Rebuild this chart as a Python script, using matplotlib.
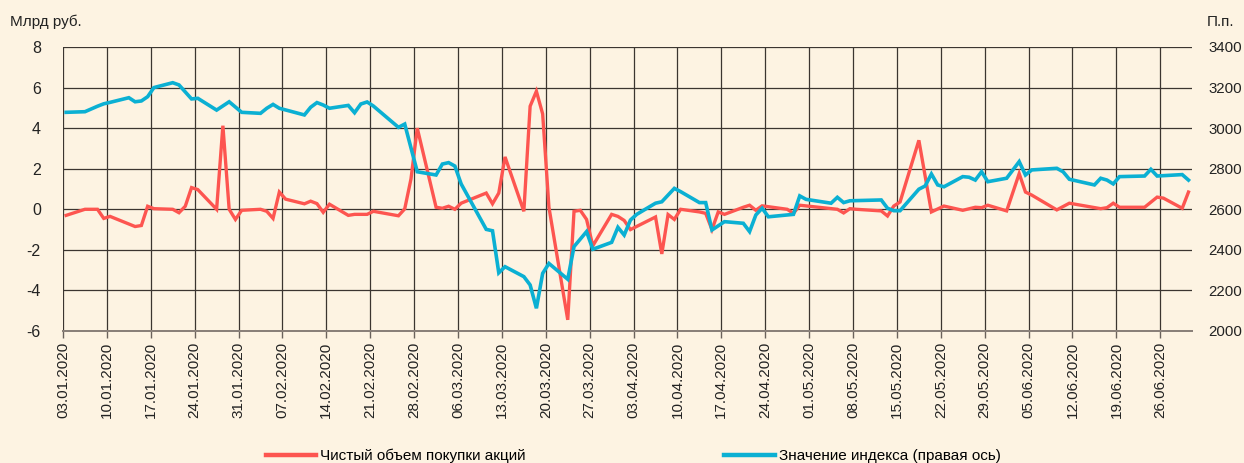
import pandas as pd
import matplotlib
matplotlib.use("Agg")
import matplotlib.pyplot as plt
import matplotlib.dates as mdates

plt.rcParams['font.family'] = ['Liberation Sans', 'DejaVu Sans']
plt.rcParams['axes.unicode_minus'] = False

# net purchases of shares, bn rub (left axis)
red_dates = ['03.01', '06.01', '08.01', '09.01', '10.01', '14.01', '15.01', '16.01', '17.01',
             '20.01', '21.01', '22.01', '23.01', '24.01', '27.01', '28.01', '29.01', '30.01',
             '31.01', '03.02', '04.02', '05.02', '06.02', '07.02', '10.02', '11.02', '12.02',
             '13.02', '14.02', '17.02', '18.02', '20.02', '21.02', '25.02', '26.02', '27.02',
             '28.02', '02.03', '03.03', '04.03', '05.03', '06.03', '10.03', '11.03', '12.03',
             '13.03', '16.03', '17.03', '18.03', '19.03', '20.03', '23.03', '24.03', '25.03',
             '26.03', '27.03', '30.03', '31.03', '01.04', '02.04', '06.04', '07.04', '08.04',
             '09.04', '10.04', '13.04', '14.04', '15.04', '16.04', '17.04', '20.04', '21.04',
             '22.04', '23.04', '27.04', '28.04', '29.04', '05.05', '06.05', '07.05', '08.05',
             '12.05', '13.05', '14.05', '15.05', '18.05', '20.05', '22.05', '25.05', '27.05',
             '28.05', '29.05', '01.06', '03.06', '04.06', '05.06', '09.06', '11.06', '16.06',
             '17.06', '18.06', '19.06', '23.06', '25.06', '26.06', '29.06', '30.06']
red_vals = [-0.3, 0.0, 0.0, -0.45, -0.35, -0.85, -0.8, 0.15, 0.03,
            0.0, -0.17, 0.15, 1.07, 0.97, 0.0, 4.12, 0.0, -0.5,
            -0.05, 0.0, -0.1, -0.45, 0.85, 0.5, 0.27, 0.4, 0.28,
            -0.15, 0.25, -0.3, -0.25, -0.25, -0.1, -0.32, 0.02, 1.5,
            4.0, 0.1, 0.05, 0.15, 0.0, 0.3, 0.8, 0.27, 0.8,
            2.58, -0.1, 5.08, 5.82, 4.7, 0.1, -5.45, -0.1, -0.05,
            -0.5, -1.8, -0.25, -0.35, -0.55, -1.0, -0.38, -2.2, -0.26,
            -0.5, 0.0, -0.13, -0.2, -1.0, -0.13, -0.25, 0.1, 0.2,
            -0.05, 0.17, 0.0, -0.2, 0.2, 0.0, -0.18, 0.03, 0.0,
            -0.08, -0.33, 0.16, 0.36, 3.4, -0.13, 0.16, -0.05, 0.1,
            0.08, 0.2, -0.08, 1.76, 0.85, 0.7, -0.03, 0.3, 0.03,
            0.08, 0.3, 0.1, 0.1, 0.6, 0.55, 0.05, 0.85]

# index value, points (right axis)
blue_dates = ['03.01', '06.01', '08.01', '09.01', '10.01', '13.01', '14.01', '15.01', '16.01',
              '17.01', '20.01', '21.01', '23.01', '24.01', '27.01', '29.01', '31.01', '03.02',
              '04.02', '05.02', '06.02', '10.02', '11.02', '12.02', '13.02', '14.02', '17.02',
              '18.02', '19.02', '20.02', '21.02', '25.02', '26.02', '28.02', '02.03', '03.03',
              '04.03', '05.03', '06.03', '10.03', '11.03', '12.03', '13.03', '16.03', '17.03',
              '18.03', '19.03', '20.03', '23.03', '24.03', '26.03', '27.03', '30.03', '31.03',
              '01.04', '02.04', '03.04', '06.04', '07.04', '09.04', '10.04', '13.04', '14.04',
              '15.04', '17.04', '20.04', '21.04', '22.04', '23.04', '24.04', '28.04', '29.04',
              '30.04', '04.05', '05.05', '06.05', '07.05', '12.05', '13.05', '14.05', '15.05',
              '18.05', '19.05', '20.05', '21.05', '22.05', '25.05', '26.05', '27.05', '28.05',
              '29.05', '01.06', '03.06', '04.06', '05.06', '09.06', '10.06', '11.06', '15.06',
              '16.06', '17.06', '18.06', '19.06', '23.06', '24.06', '25.06', '29.06', '30.06']
blue_vals = [3078, 3081, 3108, 3120, 3127, 3150, 3130, 3134, 3155,
             3200, 3224, 3213, 3144, 3147, 3089, 3130, 3078, 3073,
             3098, 3117, 3098, 3065, 3103, 3126, 3114, 3098, 3112,
             3076, 3119, 3129, 3109, 3004, 3020, 2785, 2769, 2823,
             2830, 2813, 2725, 2501, 2494, 2287, 2317, 2268, 2227,
             2112, 2284, 2333, 2255, 2416, 2490, 2403, 2437, 2511,
             2473, 2547, 2575, 2630, 2637, 2703, 2687, 2633, 2633,
             2498, 2539, 2531, 2490, 2572, 2605, 2563, 2575, 2666,
             2649, 2630, 2659, 2633, 2642, 2646, 2605, 2593, 2593,
             2699, 2715, 2774, 2720, 2711, 2761, 2758, 2744, 2785,
             2736, 2753, 2835, 2769, 2794, 2802, 2785, 2748, 2720,
             2753, 2744, 2725, 2761, 2764, 2797, 2764, 2771, 2744]

red_label = 'Чистый объем покупки акций'
blue_label = 'Значение индекса (правая ось)'

bg = '#fdf3e2'
grid_c = '#3b3530'


def to_dt(days):
    # points sit in the middle of the day on the date axis
    return pd.to_datetime([d + '.2020' for d in days], format='%d.%m.%Y') + pd.Timedelta(hours=12)


fig = plt.figure(figsize=(12.44, 4.63), dpi=100, facecolor=bg)
ax = fig.add_axes([63 / 1244, 1 - 331 / 463, (1192 - 63) / 1244, (331 - 47) / 463])
ax.set_facecolor(bg)
ax2 = ax.twinx()

ax.plot(to_dt(red_dates), red_vals, color='#fd5550', lw=2.4, solid_joinstyle='miter', zorder=3)
ax2.plot(to_dt(blue_dates), blue_vals, color='#0bb0d3', lw=2.6, solid_joinstyle='miter', zorder=3)

start = pd.Timestamp('2020-01-03')
ax.set_xlim(start, start + pd.Timedelta(days=180.06))
ax.set_ylim(-6, 8)
ax.set_yticks(range(-6, 9, 2))
ax2.set_ylim(2000, 3400)
ax2.set_yticks(range(2000, 3401, 200))

ticks = pd.date_range(start, periods=26, freq='7D')
ax.set_xticks(ticks)
ax.xaxis.set_major_formatter(mdates.DateFormatter('%d.%m.%Y'))
ax.tick_params(axis='x', rotation=90, length=5, width=1, color='#6a625c',
               labelsize=11, colors='#222222', pad=3)
ax.tick_params(axis='y', length=0, labelsize=11.5, colors='#222222', pad=16)
ax2.tick_params(axis='y', length=0, labelsize=10.8, colors='#222222', pad=12)

ax.grid(True, color=grid_c, lw=0.9)
ax.set_axisbelow(True)
for a in (ax, ax2):
    for s in ('top', 'right', 'left'):
        a.spines[s].set_visible(False)
    a.spines['bottom'].set_color('#8a8079')
    a.spines['bottom'].set_linewidth(1.4)

fig.text(10 / 1244, 1 - 22 / 463, 'Млрд руб.', fontsize=11,
         ha='left', va='center', color='#222222')
fig.text(1207 / 1244, 1 - 22 / 463, 'П.п.', fontsize=11,
         ha='left', va='center', color='#222222')

handles = [plt.Line2D([], [], color='#fd5550', lw=3.2),
           plt.Line2D([], [], color='#0bb0d3', lw=3.2)]
fig.legend(handles, [red_label, blue_label], loc='center', bbox_to_anchor=(0.509, 0.015),
           ncol=2, frameon=False, handlelength=3.3, handletextpad=0.25, columnspacing=13,
           prop={'size': 11})

fig.savefig('out.png', dpi=100, facecolor=bg)
